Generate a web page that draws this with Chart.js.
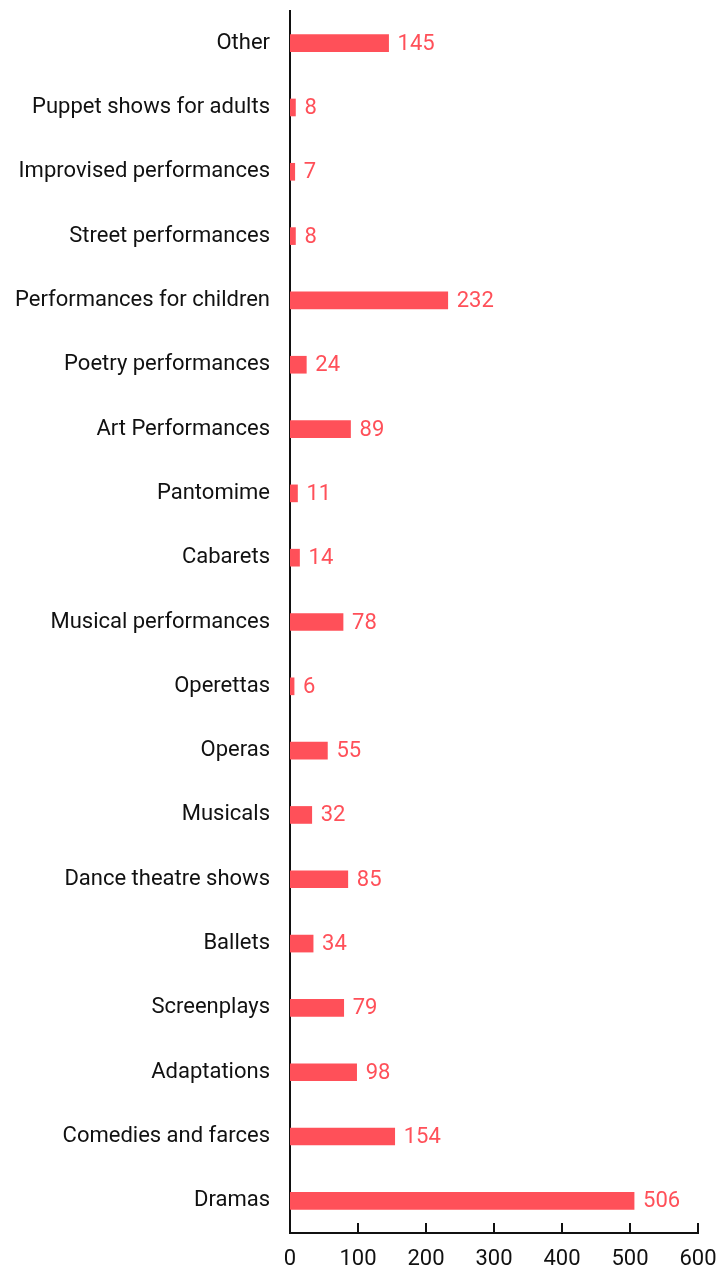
<!DOCTYPE html>
<html>
<head>
<meta charset="utf-8">
<script src="https://cdn.jsdelivr.net/npm/chart.js@4/dist/chart.umd.min.js"></script>
<style>
  html, body { margin: 0; padding: 0; background: #fff; }
  #wrap { width: 719px; height: 1273px; position: relative; }
</style>
</head>
<body>
<div id="wrap"><canvas id="bar-chart"></canvas></div>
<script>
// categories listed bottom to top (Dramas at the bottom)
const categories = [
    'Dramas', 'Comedies and farces', 'Adaptations', 'Screenplays', 'Ballets',
    'Dance theatre shows', 'Musicals', 'Operas', 'Operettas', 'Musical performances',
    'Cabarets', 'Pantomime', 'Art Performances', 'Poetry performances',
    'Performances for children', 'Street performances', 'Improvised performances',
    'Puppet shows for adults', 'Other',
];
const counts = [506, 154, 98, 79, 34, 85, 32, 55, 6, 78, 14, 11, 89, 24, 232, 8, 7, 8, 145];
const xTicks = [0, 100, 200, 300, 400, 500, 600];

const red = '#ff5059';
const ink = '#111';
const fontFamily = 'Roboto, "Noto Sans", sans-serif';
const fontSize = 22;

// value labels next to each bar
const valueLabels = {
    id: 'valueLabels',
    afterDatasetsDraw(chart) {
        const ctx = chart.ctx;
        const meta = chart.getDatasetMeta(0);
        ctx.save();
        ctx.font = `${fontSize}px ${fontFamily}`;
        ctx.fillStyle = red;
        ctx.textAlign = 'left';
        ctx.textBaseline = 'middle';
        meta.data.forEach((bar, i) => {
            ctx.fillText(String(counts[i]), bar.x + 9, bar.y + 1);
        });
        ctx.restore();
    },
};

// tick marks pointing up into the plot from the x axis
const innerTicks = {
    id: 'innerTicks',
    afterDraw(chart) {
        const ctx = chart.ctx;
        const xScale = chart.scales.x;
        const base = chart.chartArea.bottom;
        ctx.save();
        ctx.strokeStyle = ink;
        ctx.lineWidth = 2;
        xTicks.forEach((v) => {
            const px = Math.round(xScale.getPixelForValue(v));
            ctx.beginPath();
            ctx.moveTo(px, base);
            ctx.lineTo(px, base - 10);
            ctx.stroke();
        });
        ctx.restore();
    },
};

new Chart(document.getElementById('bar-chart'), {
    type: 'bar',
    data: {
        labels: categories,
        datasets: [{
            data: counts,
            backgroundColor: red,
            barThickness: 17,
        }],
    },
    options: {
        indexAxis: 'y',
        responsive: true,
        maintainAspectRatio: false,
        animation: false,
        layout: { padding: { top: 11, right: 21, left: 0, bottom: 0 } },
        plugins: {
            legend: { display: false },
            tooltip: { enabled: false },
        },
        scales: {
            x: {
                min: 0,
                max: 600,
                afterBuildTicks: (axis) => { axis.ticks = xTicks.map(v => ({ value: v })); },
                afterFit: (axis) => {
                    axis.height = 40;
                    axis.paddingLeft = 0;
                    axis.paddingRight = 0;
                },
                border: { display: true, color: ink, width: 2 },
                grid: { display: false, drawTicks: false },
                ticks: { color: ink, font: { family: fontFamily, size: fontSize }, padding: 13 },
            },
            y: {
                reverse: true,
                afterFit: (axis) => {
                    axis.width = 290;
                    axis.paddingTop = 0;
                    axis.paddingBottom = 0;
                },
                border: { display: true, color: ink, width: 2 },
                grid: { display: false, drawTicks: false },
                ticks: { color: ink, font: { family: fontFamily, size: fontSize }, padding: 20 },
            },
        },
    },
    plugins: [valueLabels, innerTicks],
});
</script>
</body>
</html>
